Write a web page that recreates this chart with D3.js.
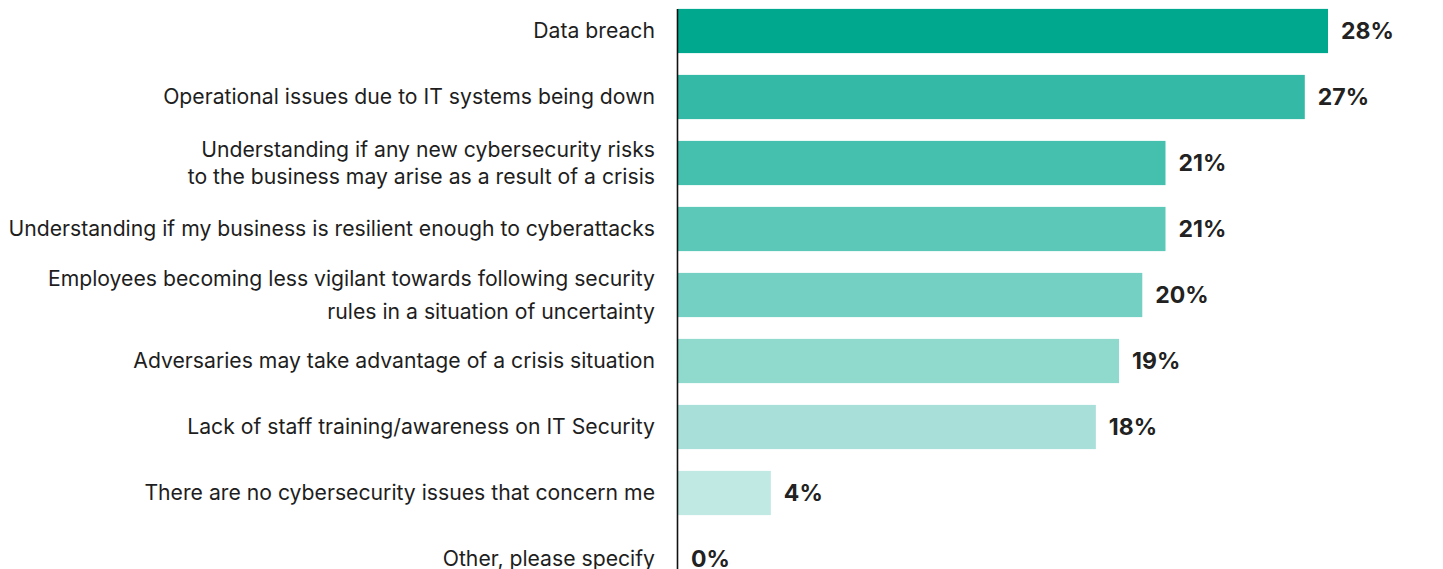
<!DOCTYPE html>
<html>
<head>
<meta charset="utf-8">
<script src="https://cdn.jsdelivr.net/npm/d3@7"></script>
<style>
  html, body { margin: 0; padding: 0; background: #fff; }
  svg { display: block; }
</style>
</head>
<body>
<svg id="chart" width="1443" height="569"></svg>
<script>
// Survey answers, top to bottom
const categories = [
  "Data breach",
  "Operational issues due to IT systems being down",
  "Understanding if any new cybersecurity risks\nto the business may arise as a result of a crisis",
  "Understanding if my business is resilient enough to cyberattacks",
  "Employees becoming less vigilant towards following security\nrules in a situation of uncertainty",
  "Adversaries may take advantage of a crisis situation",
  "Lack of staff training/awareness on IT Security",
  "There are no cybersecurity issues that concern me",
  "Other, please specify"
];
const values = [28, 27, 21, 21, 20, 19, 18, 4, 0];
const barColors = ["#00a88e", "#35b9a7", "#46c0ae", "#5bc8b8", "#74d0c2", "#8fdacd", "#a8e0d9", "#c0e9e4", "#d6f1ee"];

const svg = d3.select("#chart");
const axisX = 678;
const labelRight = 655;

const x = d3.scaleLinear().domain([0, 28]).range([axisX, axisX + 650]);
const y = d3.scaleBand()
  .domain(categories)
  .range([-2, 592])
  .paddingInner(0.33)
  .paddingOuter(0.165);

// bars
svg.append("g").selectAll("rect")
  .data(categories)
  .join("rect")
  .attr("x", axisX)
  .attr("y", d => y(d))
  .attr("width", (d, i) => x(values[i]) - axisX)
  .attr("height", y.bandwidth())
  .attr("fill", (d, i) => barColors[i]);

// vertical baseline
svg.append("line")
  .attr("x1", axisX - 0.5).attr("x2", axisX - 0.5)
  .attr("y1", 9).attr("y2", 569)
  .attr("stroke", "#111").attr("stroke-width", 1.6);

// category labels (right aligned, multi-line where needed)
const lineGap = { 2: 27, 4: 33 };
const cat = svg.append("g")
  .attr("font-family", "Inter, 'Noto Sans', sans-serif")
  .attr("font-size", 21.2)
  .attr("fill", "#1e1e1e")
  .attr("text-anchor", "end");

categories.forEach((c, i) => {
  const lines = c.split("\n");
  const cy = y(c) + y.bandwidth() / 2;
  const gap = lineGap[i] || 26;
  const t = cat.append("text").attr("x", labelRight);
  lines.forEach((ln, k) => {
    t.append("tspan")
      .attr("x", labelRight)
      .attr("y", cy + (k - (lines.length - 1) / 2) * gap)
      .attr("dy", "0.35em")
      .text(ln);
  });
});

// value labels
svg.append("g")
  .attr("font-family", "Inter, 'Noto Sans', sans-serif")
  .attr("font-weight", 700)
  .attr("font-size", 23)
  .attr("fill", "#222")
  .selectAll("text")
  .data(categories)
  .join("text")
  .attr("x", (d, i) => x(values[i]) + 13)
  .attr("y", d => y(d) + y.bandwidth() / 2)
  .attr("dy", "0.36em")
  .text((d, i) => values[i] + "%");
</script>
</body>
</html>
